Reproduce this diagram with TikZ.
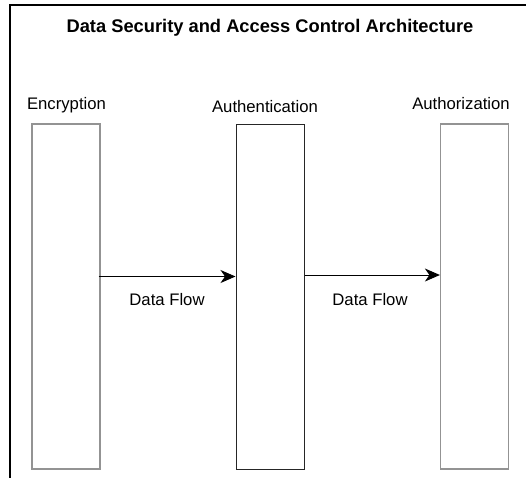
\documentclass[tikz,border=0pt]{standalone}
\usepackage{fontspec}
\setmainfont{Liberation Sans}
\usetikzlibrary{arrows.meta}
\begin{document}
\begin{tikzpicture}[x=1pt,y=-1pt,
  stage/.style={draw=#1,line width=1.2pt,minimum width=68pt,minimum height=345pt,inner sep=0pt,fill=white},
  lbl/.style={inner sep=0pt,anchor=base,font=\fontsize{16.7}{19}\selectfont},
  flow/.style={line width=1pt,-{Stealth[length=15pt,width=13pt,inset=4.5pt]}}]
\useasboundingbox (0,0) rectangle (526,477);
\fill[white] (0,0) rectangle (526,477);
\coordinate (fbl) at (10,478);
\coordinate (ftl) at (10,5);
\coordinate (ftr) at (527,5);
\draw[line width=2.2pt] (fbl) -- (ftl) -- (ftr);
\node[lbl,font=\bfseries\fontsize{18.3}{21}\selectfont] (title) at (270,32) {Data Security and Access Control Architecture};
\node[stage=gray!85] (enc) at (66,296.5) {};
\node[stage=black!85,line width=1pt] (auth) at (270,296.5) {};
\node[stage=gray!85] (authz) at (474.5,296.5) {};
\node[lbl] (encl) at (66.5,109) {Encryption};
\node[lbl] (authl) at (265,112) {Authentication};
\node[lbl] (authzl) at (461,109) {Authorization};
\draw[flow] ([xshift=-2pt,yshift=20pt]enc.east) -- ([yshift=20pt]auth.west);
\draw[flow] ([yshift=21.5pt]auth.east) -- ([yshift=21.5pt]authz.west);
\node[lbl] (df1) at (167,305) {Data Flow};
\node[lbl] (df2) at (370,305) {Data Flow};
\end{tikzpicture}
\end{document}
